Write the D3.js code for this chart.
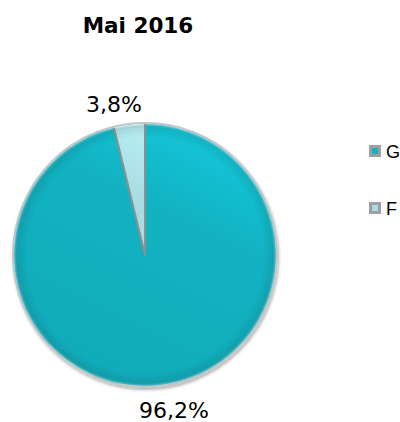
<!DOCTYPE html>
<html>
<head>
<meta charset="utf-8">
<script src="https://cdn.jsdelivr.net/npm/d3@7"></script>
<style>
  html, body { margin: 0; padding: 0; background: #fff; overflow: hidden; }
  svg { display: block; }
</style>
</head>
<body>
<div id="chart"></div>
<script>
// Données du graphique
const categories = ['G', 'F'];
const values = [96.2, 3.8];
const labels = ['96,2%', '3,8%'];
const colors = ['#12b2c2', '#a9dde2'];
const title = 'Mai 2016';

const width = 400, height = 422;
const cx = 145, cy = 255, radius = 131;

const svg = d3.select('#chart').append('svg')
  .attr('width', width)
  .attr('height', height);

const defs = svg.append('defs');

// dégradés pour l'effet biseauté
colors.forEach((c, i) => {
  const grad = defs.append('linearGradient')
    .attr('id', 'grad' + i)
    .attr('gradientUnits', 'userSpaceOnUse')
    .attr('x1', cx + radius * 0.6).attr('y1', cy - radius)
    .attr('x2', cx - radius * 0.4).attr('y2', cy + radius);
  grad.append('stop').attr('offset', '0%').attr('stop-color', d3.color(c).brighter(0.35));
  grad.append('stop').attr('offset', '35%').attr('stop-color', c);
  grad.append('stop').attr('offset', '100%').attr('stop-color', d3.color(c).darker(0.12));
});

const rim = defs.append('radialGradient')
  .attr('id', 'rim')
  .attr('gradientUnits', 'userSpaceOnUse')
  .attr('cx', cx).attr('cy', cy).attr('r', radius);
rim.append('stop').attr('offset', '0%').attr('stop-color', '#000').attr('stop-opacity', 0);
rim.append('stop').attr('offset', '90%').attr('stop-color', '#000').attr('stop-opacity', 0);
rim.append('stop').attr('offset', '97%').attr('stop-color', '#000').attr('stop-opacity', 0.08);
rim.append('stop').attr('offset', '100%').attr('stop-color', '#fff').attr('stop-opacity', 0.35);

const filter = defs.append('filter').attr('id', 'shadow')
  .attr('x', '-10%').attr('y', '-10%').attr('width', '130%').attr('height', '130%');
filter.append('feDropShadow')
  .attr('dx', 1).attr('dy', 2).attr('stdDeviation', 1.5)
  .attr('flood-color', '#000').attr('flood-opacity', 0.3);

// titre
svg.append('text')
  .attr('x', 138).attr('y', 33)
  .attr('text-anchor', 'middle')
  .attr('font-family', 'Verdana, "DejaVu Sans", sans-serif')
  .attr('font-weight', 'bold')
  .attr('font-size', '21.5px')
  .attr('fill', '#000')
  .text(title);

const pie = d3.pie().sort(null).value(d => d)(values);
const arc = d3.arc().innerRadius(0).outerRadius(radius);

const g = svg.append('g').attr('transform', `translate(${cx},${cy})`);

// contour extérieur
g.append('circle')
  .attr('r', radius + 1)
  .attr('fill', '#fff')
  .attr('stroke', '#c4c4c4')
  .attr('stroke-width', 2)
  .attr('filter', 'url(#shadow)');

g.selectAll('path.slice')
  .data(pie)
  .join('path')
  .attr('class', 'slice')
  .attr('d', arc)
  .attr('transform', `translate(${-cx},${-cy})`)
  .attr('fill', (d, i) => `url(#grad${i})`)
  .attr('transform', null);

// les dégradés sont en coordonnées absolues : on les recale
g.selectAll('path.slice').attr('fill', (d, i) => `url(#grad${i})`);
defs.selectAll('linearGradient')
  .attr('x1', radius * 0.6).attr('y1', -radius)
  .attr('x2', -radius * 0.4).attr('y2', radius);
rim.attr('cx', 0).attr('cy', 0);

// reflet du bord
g.append('circle')
  .attr('r', radius)
  .attr('fill', 'url(#rim)')
  .attr('pointer-events', 'none');

// séparations grises entre les parts
g.selectAll('line.sep')
  .data(pie)
  .join('line')
  .attr('class', 'sep')
  .attr('x1', 0).attr('y1', 0)
  .attr('x2', d => radius * Math.sin(d.startAngle))
  .attr('y2', d => -radius * Math.cos(d.startAngle))
  .attr('stroke', '#8f8f8f')
  .attr('stroke-width', 2);

// étiquettes
const labelPos = [[174, 418], [114, 112]];
svg.selectAll('text.lbl')
  .data(pie)
  .join('text')
  .attr('class', 'lbl')
  .attr('x', (d, i) => labelPos[i][0])
  .attr('y', (d, i) => labelPos[i][1])
  .attr('text-anchor', 'middle')
  .attr('font-family', 'Verdana, "DejaVu Sans", sans-serif')
  .attr('font-size', '22px')
  .attr('fill', '#000')
  .text((d, i) => labels[i]);

// légende
const legend = svg.append('g').attr('transform', 'translate(369,145)');
const item = legend.selectAll('g')
  .data(categories)
  .join('g')
  .attr('transform', (d, i) => `translate(0,${i * 57})`);
item.append('rect')
  .attr('width', 12).attr('height', 12)
  .attr('fill', '#a0a0a0');
item.append('rect')
  .attr('x', 3).attr('y', 3).attr('width', 6).attr('height', 6)
  .attr('fill', (d, i) => colors[i]);
item.append('text')
  .attr('x', 17).attr('y', 12.5)
  .attr('font-family', '"Liberation Sans", Arial, sans-serif')
  .attr('font-size', '18px')
  .attr('fill', '#000')
  .text(d => d);
</script>
</body>
</html>
